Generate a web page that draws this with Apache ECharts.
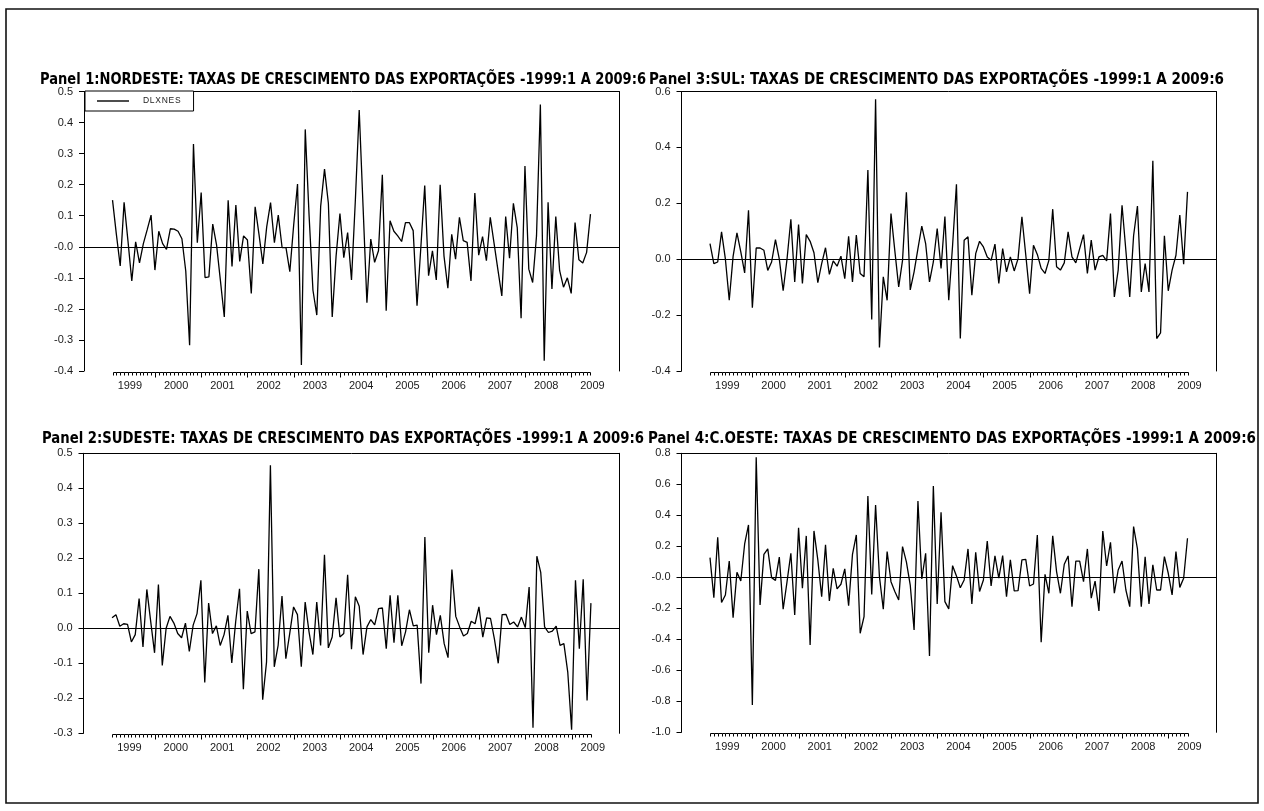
<!DOCTYPE html>
<html>
<head>
<meta charset="utf-8">
<script src="https://cdn.jsdelivr.net/npm/echarts@6/dist/echarts.min.js"></script>
<style>
  html, body { margin: 0; padding: 0; background: #fff; }
  #chart { width: 1264px; height: 811px; }
</style>
</head>
<body>
<div id="chart"></div>
<script>
// Monthly log-growth rates of exports by region, 1999:2 .. 2009:6 (125 months)
const firstYear = 1999;
const firstMonth = 2;
const yearLabels = ['1999', '2000', '2001', '2002', '2003', '2004', '2005', '2006', '2007', '2008', '2009'];

const nordeste = [
  0.150, 0.040, -0.062, 0.143, 0.020, -0.110, 0.016, -0.052, 0.010, 0.055, 0.102,
  -0.075, 0.050, 0.010, -0.008, 0.058, 0.057, 0.050, 0.026, -0.078, -0.317, 0.331, 0.013,
  0.175, -0.099, -0.097, 0.073, 0.005, -0.110, -0.226, 0.150, -0.063, 0.134, -0.047, 0.035,
  0.022, -0.150, 0.129, 0.040, -0.055, 0.064, 0.142, 0.013, 0.102, -0.003, -0.003, -0.080,
  0.070, 0.202, -0.381, 0.378, 0.100, -0.140, -0.220, 0.130, 0.250, 0.140, -0.226, -0.030,
  0.107, -0.035, 0.046, -0.107, 0.150, 0.440, 0.130, -0.180, 0.025, -0.050, -0.013, 0.232,
  -0.206, 0.084, 0.050, 0.035, 0.017, 0.078, 0.078, 0.052, -0.190, 0.000, 0.197, -0.093,
  -0.013, -0.107, 0.200, -0.030, -0.133, 0.040, -0.040, 0.095, 0.020, 0.014, -0.110, 0.173,
  -0.027, 0.033, -0.045, 0.095, 0.010, -0.075, -0.158, 0.097, -0.037, 0.140, 0.062, -0.230,
  0.260, -0.072, -0.115, 0.035, 0.458, -0.367, 0.143, -0.136, 0.097, -0.077, -0.130, -0.100,
  -0.150, 0.078, -0.042, -0.052, -0.018, 0.105
];

const sudeste = [
  0.030, 0.039, 0.006, 0.013, 0.011, -0.039, -0.018, 0.085, -0.053, 0.111, 0.020,
  -0.070, 0.125, -0.106, 0.000, 0.034, 0.015, -0.015, -0.027, 0.015, -0.066, 0.009, 0.042,
  0.137, -0.155, 0.072, -0.015, 0.007, -0.049, -0.018, 0.037, -0.099, 0.018, 0.113, -0.174,
  0.049, -0.015, -0.010, 0.169, -0.204, -0.096, 0.466, -0.110, -0.049, 0.092, -0.087, -0.015,
  0.061, 0.039, -0.110, 0.075, -0.010, -0.075, 0.075, -0.049, 0.210, -0.056, -0.025, 0.087,
  -0.025, -0.015, 0.153, -0.060, 0.090, 0.063, -0.075, 0.004, 0.025, 0.010, 0.056, 0.058,
  -0.058, 0.094, -0.041, 0.094, -0.050, -0.010, 0.053, 0.007, 0.009, -0.158, 0.261, -0.070,
  0.066, -0.018, 0.037, -0.044, -0.084, 0.168, 0.034, 0.004, -0.022, -0.015, 0.020, 0.013,
  0.061, -0.025, 0.030, 0.028, -0.030, -0.100, 0.039, 0.040, 0.011, 0.018, 0.004, 0.032,
  0.002, 0.118, -0.284, 0.206, 0.160, 0.004, -0.012, -0.008, 0.006, -0.049, -0.044, -0.125,
  -0.290, 0.137, -0.058, 0.140, -0.206, 0.072
];

const sul = [
  0.056, -0.016, -0.010, 0.098, 0.000, -0.147, 0.010, 0.094, 0.026, -0.049, 0.175,
  -0.174, 0.040, 0.040, 0.032, -0.040, -0.010, 0.070, 0.000, -0.113, 0.000, 0.143, -0.081,
  0.124, -0.087, 0.088, 0.064, 0.023, -0.084, -0.016, 0.041, -0.054, -0.006, -0.025, 0.011,
  -0.070, 0.082, -0.081, 0.086, -0.051, -0.063, 0.319, -0.216, 0.572, -0.316, -0.063, -0.147,
  0.163, 0.030, -0.099, -0.004, 0.239, -0.110, -0.045, 0.038, 0.118, 0.056, -0.081, -0.010,
  0.110, -0.033, 0.153, -0.147, 0.050, 0.268, -0.284, 0.068, 0.080, -0.129, 0.020, 0.064,
  0.044, 0.008, -0.004, 0.054, -0.087, 0.038, -0.045, 0.008, -0.042, 0.002, 0.152, 0.015,
  -0.123, 0.050, 0.017, -0.033, -0.051, -0.004, 0.179, -0.027, -0.039, -0.013, 0.098, 0.008,
  -0.013, 0.038, 0.088, -0.051, 0.068, -0.039, 0.008, 0.014, -0.006, 0.163, -0.135, -0.039,
  0.193, 0.030, -0.135, 0.084, 0.190, -0.117, -0.016, -0.117, 0.352, -0.284, -0.264, 0.084,
  -0.113, -0.039, 0.014, 0.158, -0.018, 0.241
];

const cOeste = [
  0.127, -0.131, 0.258, -0.163, -0.114, 0.105, -0.260, 0.032, -0.024, 0.215, 0.338,
  -0.824, 0.774, -0.178, 0.148, 0.183, -0.002, -0.020, 0.130, -0.206, -0.030, 0.155, -0.243,
  0.320, -0.071, 0.267, -0.437, 0.299, 0.112, -0.125, 0.209, -0.153, 0.058, -0.075, -0.045,
  0.054, -0.183, 0.148, 0.273, -0.361, -0.254, 0.525, -0.110, 0.467, 0.004, -0.206, 0.166,
  -0.028, -0.092, -0.146, 0.198, 0.100, -0.050, -0.340, 0.492, -0.011, 0.155, -0.508, 0.589,
  -0.172, 0.419, -0.157, -0.204, 0.075, 0.009, -0.067, -0.017, 0.183, -0.172, 0.161, -0.092,
  -0.017, 0.234, -0.056, 0.138, -0.006, 0.140, -0.125, 0.112, -0.088, -0.086, 0.112, 0.116,
  -0.056, -0.043, 0.273, -0.419, 0.019, -0.103, 0.267, 0.037, -0.103, 0.084, 0.138, -0.189,
  0.105, 0.105, -0.028, 0.183, -0.135, -0.024, -0.217, 0.299, 0.073, 0.226, -0.103, 0.047,
  0.105, -0.082, -0.189, 0.327, 0.183, -0.189, 0.133, -0.172, 0.080, -0.082, -0.082, 0.133,
  0.026, -0.114, 0.166, -0.065, -0.006, 0.252
];

const titleSuffix = ': TAXAS DE CRESCIMENTO DAS EXPORTAÇÕES -1999:1 A 2009:6';

// One entry per panel: series, region title, y scale and how zero is printed
const panels = [
  { name: 'DLXNES', data: nordeste, title: 'Panel 1:NORDESTE' + titleSuffix, min: -0.4, max: 0.5, step: 0.1, zero: '-0.0',
    grid: { left: 84, top: 91.5, width: 535, height: 279.5 }, titleBox: [40, 80, 606] },
  { name: 'DLXSES', data: sudeste, title: 'Panel 2:SUDESTE' + titleSuffix, min: -0.3, max: 0.5, step: 0.1, zero: '0.0',
    grid: { left: 83.5, top: 453.3, width: 536, height: 280 }, titleBox: [42, 439, 602] },
  { name: 'DLXSUL', data: sul, title: 'Panel 3:SUL' + titleSuffix, min: -0.4, max: 0.6, step: 0.2, zero: '0.0',
    grid: { left: 681.5, top: 91.5, width: 534.5, height: 279.5 }, titleBox: [649, 80, 575] },
  { name: 'DLXCOS', data: cOeste, title: 'Panel 4:C.OESTE' + titleSuffix, min: -1.0, max: 0.8, step: 0.2, zero: '-0.0',
    grid: { left: 681.5, top: 453.3, width: 534.5, height: 279 }, titleBox: [648, 439, 608] }
];

const nMonths = nordeste.length;
const pad = 7.4;
const xMin = -pad, xMax = nMonths - 1 + pad;
const labelFont = '"Liberation Sans", Arial, sans-serif';
const titleFont = 'bold 15px "Liberation Sans Narrow", "DejaVu Sans Condensed", "Liberation Sans", sans-serif';

// the titles are set in a tightly condensed face: squeeze each one to its width
const measureCtx = document.createElement('canvas').getContext('2d');
measureCtx.font = titleFont;
const squeeze = (text, width) => width / measureCtx.measureText(text).width;

// month index -> is it January?
const isJanuary = i => (i + firstMonth - 1) % 12 === 0;
// centre of each calendar year, in month-index units
const yearCentre = k => (12 * k) - (firstMonth - 1) + 5.5;

const grids = [], xAxes = [], yAxes = [], series = [], graphics = [];

panels.forEach((p, k) => {
  grids.push(Object.assign({ containLabel: false, show: false }, p.grid));

  // top border of the frame
  xAxes.push({
    type: 'value', gridIndex: k, min: xMin, max: xMax, position: 'top',
    axisLine: { show: true, onZero: false, lineStyle: { color: '#000', width: 1 } },
    axisTick: { show: false }, axisLabel: { show: false }, splitLine: { show: false }
  });

  // left value axis
  yAxes.push({
    type: 'value', gridIndex: k, min: p.min, max: p.max, interval: p.step, position: 'left',
    axisLine: { show: true, onZero: false, lineStyle: { color: '#000', width: 1 } },
    axisTick: { show: true, inside: false, length: 5, lineStyle: { color: '#000', width: 1 } },
    axisLabel: {
      margin: 11, fontSize: 11, color: '#1a1a1a', fontFamily: labelFont,
      formatter: v => Math.abs(v) < 1e-9 ? p.zero : v.toFixed(1)
    },
    splitLine: { show: false }
  });
  // right border
  yAxes.push({
    type: 'value', gridIndex: k, min: p.min, max: p.max, interval: p.step, position: 'right',
    axisLine: { show: true, onZero: false, lineStyle: { color: '#000', width: 1 } },
    axisTick: { show: false }, axisLabel: { show: false }, splitLine: { show: false }
  });

  const yIdx = 2 * k;

  series.push({
    type: 'line', name: p.name, xAxisIndex: k, yAxisIndex: yIdx,
    data: p.data.map((v, i) => [i, v]),
    symbol: 'none', showSymbol: false, silent: true,
    lineStyle: { color: '#000', width: 1.3 },
    itemStyle: { color: '#000' },
    markLine: {
      silent: true, symbol: 'none', label: { show: false },
      lineStyle: { color: '#000', width: 1, type: 'solid' },
      data: [{ yAxis: 0 }]
    }
  });

  // monthly time axis under the plot, spanning only the sample
  series.push({
    type: 'custom', xAxisIndex: k, yAxisIndex: yIdx, silent: true, clip: false,
    data: p.data.map((v, i) => [i, p.min]),
    renderItem: (params, api) => {
      const i = api.value(0);
      const c = api.coord([i, api.value(1)]);
      const x = Math.round(c[0]) + 0.5;
      const y = Math.round(c[1]) + 1.5;
      const children = [{
        type: 'line',
        shape: { x1: x, y1: y, x2: x, y2: y + (isJanuary(i) ? 5 : 3) },
        style: { stroke: '#000', lineWidth: 1 }
      }];
      if (i < nMonths - 1) {
        const n = api.coord([i + 1, api.value(1)]);
        children.push({
          type: 'line',
          shape: { x1: x, y1: y, x2: Math.round(n[0]) + 0.5, y2: y },
          style: { stroke: '#000', lineWidth: 1 }
        });
      }
      return { type: 'group', children };
    }
  });

  // year labels
  series.push({
    type: 'custom', xAxisIndex: k, yAxisIndex: yIdx, silent: true, clip: false,
    data: yearLabels.map((y, j) => [yearCentre(j), p.min]),
    renderItem: (params, api) => {
      const c = api.coord([api.value(0), api.value(1)]);
      return {
        type: 'text', x: c[0], y: c[1] + 15,
        style: {
          text: yearLabels[params.dataIndex], fill: '#1a1a1a',
          fontSize: 11, fontFamily: labelFont,
          align: 'center', verticalAlign: 'middle',
          textAlign: 'center', textVerticalAlign: 'middle'
        }
      };
    }
  });

  graphics.push({
    type: 'text', x: p.titleBox[0], y: p.titleBox[1],
    scaleX: squeeze(p.title, p.titleBox[2]), scaleY: 1,
    silent: true,
    style: {
      text: p.title, fill: '#000', font: titleFont,
      align: 'left', verticalAlign: 'middle',
      textAlign: 'left', textVerticalAlign: 'middle'
    }
  });
});

// page frame
graphics.push({
  type: 'rect', silent: true, z: -1,
  shape: { x: 6, y: 9, width: 1252, height: 794 },
  style: { fill: 'none', stroke: '#111', lineWidth: 1.6 }
});

const chart = echarts.init(document.getElementById('chart'), null, { renderer: 'canvas' });
chart.setOption({
  animation: false,
  backgroundColor: '#fff',
  grid: grids,
  xAxis: xAxes,
  yAxis: yAxes,
  legend: {
    data: [{ name: 'DLXNES', icon: 'rect' }],
    left: 85, top: 91,
    backgroundColor: '#fff',
    borderColor: '#000', borderWidth: 1, borderRadius: 0,
    padding: [5, 13, 5, 12],
    itemWidth: 32, itemHeight: 1.4,
    itemStyle: { color: '#000', borderWidth: 0 },
    // lightly tracked label
    formatter: name => name.split('').join('\u200A'),
    textStyle: { fontSize: 8.5, color: '#222', fontFamily: labelFont, padding: [0, 0, 0, 9], lineHeight: 10 },
    selectedMode: false
  },
  series: series,
  graphic: { elements: graphics }
});
</script>
</body>
</html>
